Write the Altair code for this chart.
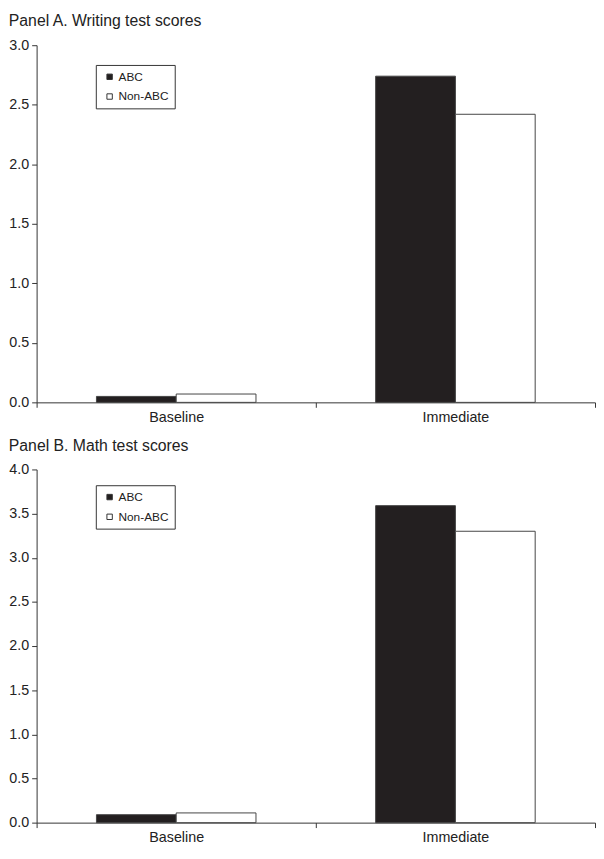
import altair as alt
import pandas as pd

groups = ["Baseline", "Immediate"]
series = ["ABC", "Non-ABC"]

writing_abc = [0.05, 2.74]
writing_non = [0.07, 2.42]
math_abc = [0.09, 3.59]
math_non = [0.11, 3.30]

FONT = "Liberation Sans"


def make_df(abc, non):
    rows = []
    for i, g in enumerate(groups):
        rows.append({"time": g, "group": "ABC", "value": abc[i]})
        rows.append({"time": g, "group": "Non-ABC", "value": non[i]})
    return pd.DataFrame(rows)


def panel(title, abc, non, ymax, height, legend_y):
    df = make_df(abc, non)
    ticks = [i * 0.5 for i in range(int(ymax * 2) + 1)]
    return (
        alt.Chart(df)
        .mark_bar(stroke="#444444", strokeWidth=1)
        .encode(
            x=alt.X(
                "time:N",
                sort=groups,
                scale=alt.Scale(paddingInner=0, paddingOuter=0),
                axis=alt.Axis(
                    title=None,
                    labelAngle=0,
                    tickBand="extent",
                    tickSize=5,
                    labelPadding=3,
                ),
            ),
            xOffset=alt.XOffset(
                "group:N",
                sort=series,
                scale=alt.Scale(paddingInner=0, paddingOuter=0.75),
            ),
            y=alt.Y(
                "value:Q",
                scale=alt.Scale(domain=[0, ymax], nice=False),
                axis=alt.Axis(
                    title=None,
                    values=ticks,
                    format=".1f",
                    grid=False,
                    tickSize=5,
                    labelPadding=3,
                ),
            ),
            fill=alt.Fill(
                "group:N",
                sort=series,
                scale=alt.Scale(domain=series, range=["#231f20", "#ffffff"]),
                legend=alt.Legend(
                    title=None,
                    orient="none",
                    legendX=60,
                    legendY=legend_y,
                    strokeColor="#333333",
                    fillColor="#ffffff",
                    padding=6,
                    rowPadding=8,
                    symbolType="square",
                    symbolSize=30,
                    symbolStrokeColor="#333333",
                    symbolStrokeWidth=1,
                    labelFontSize=12,
                    labelFont=FONT,
                    labelColor="#222222",
                    labelOffset=3,
                    symbolOffset=2,
                    labelLimit=200,
                ),
            ),
        )
        .properties(
            width=566,
            height=height,
            title=alt.TitleParams(
                title,
                anchor="start",
                frame="bounds",
                fontSize=16,
                font=FONT,
                fontWeight="normal",
                color="#222222",
                offset=8,
            ),
        )
    )


a = panel("Panel A. Writing test scores", writing_abc, writing_non, 3.0, 362, 20)
b = panel("Panel B. Math test scores", math_abc, math_non, 4.0, 358, 16)

chart = (
    alt.vconcat(a, b, spacing=14)
    .resolve_scale(fill="independent")
    .properties(padding={"left": 0, "top": 0, "right": 0, "bottom": 0})
    .configure_view(stroke=None)
    .configure_axis(
        labelFont=FONT,
        labelFontSize=14.5,
        labelColor="#222222",
        domainColor="#333333",
        tickColor="#333333",
        domainWidth=1,
        tickWidth=1,
    )
)

chart.save("out.html", embed_options={"renderer": "svg", "actions": False})
